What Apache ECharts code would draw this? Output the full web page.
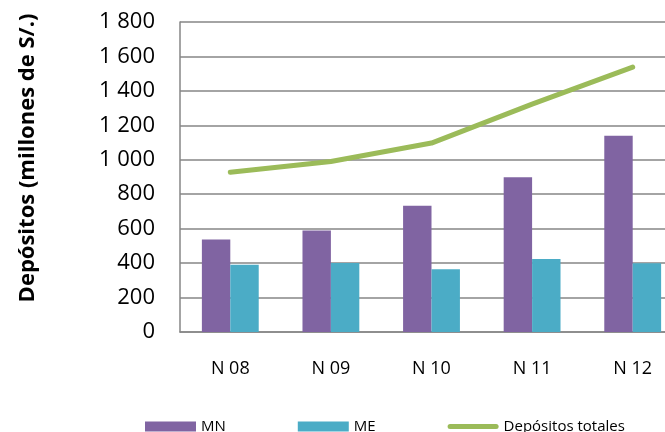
<!DOCTYPE html>
<html>
<head>
<meta charset="utf-8">
<script src="https://cdn.jsdelivr.net/npm/echarts@6/dist/echarts.min.js"></script>
<style>html,body{margin:0;padding:0;background:#fff}#c{width:665px;height:432px}</style>
</head>
<body>
<div id="c"></div>
<script>
const categories = ['N 08', 'N 09', 'N 10', 'N 11', 'N 12'];
const mn = [537, 590, 733, 899, 1139];
const me = [390, 400, 364, 424, 399];
const totales = [927, 990, 1097, 1323, 1538];
const yTicks = [0, 200, 400, 600, 800, 1000, 1200, 1400, 1600, 1800];

const chart = echarts.init(document.getElementById('c'));
const fmt = v => {
  const s = String(v);
  return s.length > 3 ? s.slice(0, s.length - 3) + ' ' + s.slice(-3) : s;
};
chart.setOption({
  animation: false,
  grid: { left: 180, top: 22, height: 310, width: 503, containLabel: false, outerBoundsMode: 'none' },
  legend: {
    left: 140, top: 414,
    itemWidth: 51, itemHeight: 10, itemGap: 72,
    textStyle: { fontFamily: 'Open Sans', fontSize: 15, color: '#000' },
    data: [
      { name: 'MN', icon: 'rect' },
      { name: 'ME', icon: 'rect' },
      { name: 'Depósitos totales', icon: 'path://M2.5,0 L48.5,0 A2.5,2.5 0 0 1 48.5,5 L2.5,5 A2.5,2.5 0 0 1 2.5,0 Z' }
    ]
  },
  graphic: [{
    type: 'text',
    rotation: Math.PI / 2,
    x: 28, y: 158,
    style: {
      text: 'Depósitos (millones de S/.)',
      fontFamily: 'Open Sans', fontWeight: 'bold', fontSize: 22, fill: '#000',
      align: 'center', verticalAlign: 'middle'
    }
  }],
  xAxis: {
    type: 'category',
    data: categories,
    axisLine: { lineStyle: { color: '#868686', width: 1.5 } },
    axisTick: { show: false },
    axisLabel: { fontFamily: 'Open Sans', fontSize: 18, color: '#000', margin: 28 }
  },
  yAxis: {
    type: 'value',
    min: yTicks[0], max: yTicks[yTicks.length - 1], interval: 200,
    axisLine: { show: true, lineStyle: { color: '#868686', width: 1.5 } },
    axisTick: { show: false },
    splitLine: { lineStyle: { color: '#868686', width: 1.5 } },
    axisLabel: { fontFamily: 'Open Sans', fontSize: 22, color: '#000', margin: 25, formatter: fmt }
  },
  series: [
    { name: 'MN', type: 'bar', data: mn, barGap: '0%', barCategoryGap: '43.5%',
      itemStyle: { color: '#8064A2' } },
    { name: 'ME', type: 'bar', data: me,
      itemStyle: { color: '#4BACC6' } },
    { name: 'Depósitos totales', type: 'line', data: totales, symbol: 'none',
      lineStyle: { color: '#9BBB59', width: 5, cap: 'round' },
      itemStyle: { color: '#9BBB59' } }
  ]
});
</script>
</body>
</html>
